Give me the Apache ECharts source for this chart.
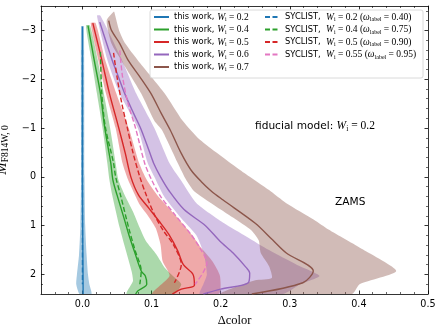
<!DOCTYPE html>
<html>
<head>
<meta charset="utf-8">
<script src="https://cdn.jsdelivr.net/npm/echarts@6/dist/echarts.min.js"></script>
<style>
html, body { margin: 0; padding: 0; background: #fff; }
#chart { width: 443px; height: 331px; }
</style>
</head>
<body>
<div id="chart"></div>
<script>
// tick labels
const xTicks = [0, 0.1, 0.2, 0.3, 0.4, 0.5];
const yTicks = [-3, -2, -1, 0, 1, 2];

// legend values
const workW = ['0.2', '0.4', '0.5', '0.6', '0.7'];
const syclistW = ['0.2', '0.4', '0.5', '0.55'];
const syclistOmega = ['0.40', '0.75', '0.90', '0.95'];

// this work: median lines, [dcolor, M]
const blueLine = [[0, -3.08], [0, 0], [0.001, 2.4]];
const greenLine = [[0.008, -3.1], [0.017, -2.39], [0.026, -1.71], [0.032, -1.03], [0.041, -0.28], [0.044, 0.06], [0.050, 0.37], [0.060, 0.84], [0.067, 1.18], [0.075, 1.52], [0.085, 1.93], [0.091, 2.03], [0.093, 2.2], [0.080, 2.34], [0.077, 2.4]];
const redLine = [[0.015, -3.15], [0.028, -2.39], [0.039, -1.71], [0.052, -1.03], [0.062, -0.48], [0.070, 0.0], [0.081, 0.37], [0.096, 0.64], [0.111, 0.91], [0.125, 1.18], [0.138, 1.52], [0.146, 1.80], [0.160, 2.0], [0.162, 2.22], [0.143, 2.3], [0.130, 2.4]];
const purpleLine = [[0.025, -3.17], [0.035, -2.73], [0.043, -2.39], [0.052, -2.05], [0.061, -1.71], [0.074, -1.3], [0.084, -1.0], [0.096, -0.55], [0.103, -0.28], [0.113, 0.0], [0.126, 0.3], [0.147, 0.67], [0.178, 1.0], [0.199, 1.32], [0.218, 1.56], [0.237, 1.86], [0.242, 1.97], [0.240, 2.17], [0.200, 2.3], [0.175, 2.4]];
const brownLine = [[0.038, -3.2], [0.042, -3.0], [0.054, -2.73], [0.066, -2.39], [0.083, -2.05], [0.099, -1.71], [0.114, -1.3], [0.127, -0.96], [0.143, -0.48], [0.157, -0.14], [0.172, 0.1], [0.187, 0.3], [0.203, 0.47], [0.250, 0.95], [0.275, 1.29], [0.295, 1.56], [0.334, 1.93], [0.319, 2.17], [0.245, 2.4]];

// this work: spread bands, left and right edges
const blueBandL = [[-0.002, -3.08], [-0.002, 0], [-0.003, 1.0], [-0.005, 1.6], [-0.008, 2.0], [-0.009, 2.2], [-0.004, 2.4]];
const blueBandR = [[0.002, -3.08], [0.003, 0], [0.004, 1.0], [0.006, 1.6], [0.008, 2.0], [0.010, 2.2], [0.013, 2.4]];
const greenBandL = [[0.005, -3.1], [0.013, -2.4], [0.021, -1.7], [0.029, -1.0], [0.036, -0.28], [0.039, 0.06], [0.043, 0.37], [0.054, 1.05], [0.063, 1.52], [0.071, 1.93], [0.073, 2.14], [0.064, 2.4]];
const greenBandR = [[0.011, -3.1], [0.022, -2.4], [0.031, -1.7], [0.040, -1.0], [0.048, -0.28], [0.052, 0.06], [0.061, 0.37], [0.073, 0.71], [0.083, 1.05], [0.092, 1.32], [0.107, 1.59], [0.119, 1.86], [0.131, 2.03], [0.143, 2.2], [0.133, 2.4]];
const redBandL = [[0.012, -3.15], [0.023, -2.39], [0.034, -1.71], [0.048, -1.0], [0.058, -0.28], [0.066, 0.06], [0.076, 0.37], [0.083, 0.57], [0.094, 0.78], [0.106, 1.05], [0.113, 1.39], [0.116, 1.73], [0.126, 2.03], [0.101, 2.4]];
const redBandR = [[0.019, -3.15], [0.033, -2.39], [0.049, -1.71], [0.067, -1.0], [0.082, -0.28], [0.093, 0.06], [0.108, 0.37], [0.134, 0.78], [0.158, 1.18], [0.172, 1.46], [0.188, 1.73], [0.199, 2.03], [0.197, 2.4]];
const purpleBandL = [[0.021, -3.3], [0.036, -2.4], [0.054, -1.7], [0.080, -1.0], [0.094, -0.3], [0.104, 0.0], [0.118, 0.4], [0.140, 0.8], [0.165, 1.2], [0.176, 1.6], [0.180, 2.0], [0.175, 2.2], [0.170, 2.4]];
const purpleBandR = [[0.026, -3.3], [0.057, -2.4], [0.078, -1.7], [0.104, -1.0], [0.126, -0.28], [0.142, 0.06], [0.165, 0.54], [0.205, 0.95], [0.237, 1.22], [0.270, 1.5], [0.310, 1.8], [0.343, 2.03], [0.315, 2.2], [0.290, 2.4]];
const brownBandL = [[0.045, -3.38], [0.035, -3.2], [0.042, -2.73], [0.056, -2.39], [0.085, -1.71], [0.104, -1.15], [0.115, -0.96], [0.138, -0.28], [0.150, 0.06], [0.162, 0.3], [0.200, 0.67], [0.243, 1.08], [0.255, 1.3], [0.258, 1.56], [0.270, 1.83], [0.274, 2.07], [0.250, 2.12], [0.200, 2.4]];
const brownBandR = [[0.046, -3.38], [0.053, -3.0], [0.062, -2.73], [0.080, -2.39], [0.119, -1.71], [0.145, -1.15], [0.170, -0.76], [0.228, -0.14], [0.270, 0.27], [0.295, 0.54], [0.335, 0.88], [0.356, 1.08], [0.406, 1.49], [0.454, 1.93], [0.401, 2.2], [0.390, 2.4]];

// SYCLIST dashed lines
const blueDash = [[0, -2.6], [0, 2.2]];
const greenDash = [[0.026, -2.56], [0.028, -1.71], [0.033, -1.03], [0.045, -0.28], [0.048, 0.0], [0.055, 0.37], [0.067, 1.05], [0.076, 1.5], [0.085, 1.93], [0.083, 2.2]];
const redDash = [[0.045, -2.54], [0.050, -2.05], [0.057, -1.5], [0.065, -1.0], [0.073, -0.5], [0.083, 0.0], [0.093, 0.4], [0.105, 0.8], [0.117, 1.1], [0.132, 1.4], [0.143, 1.8], [0.133, 2.17]];
const pinkDash = [[0.054, -2.59], [0.058, -2.05], [0.066, -1.5], [0.077, -0.99], [0.090, -0.28], [0.100, 0.06], [0.113, 0.4], [0.134, 0.78], [0.157, 1.18], [0.170, 1.46], [0.180, 1.76], [0.163, 2.2]];

const workLines = [blueLine, greenLine, redLine, purpleLine, brownLine];
const workBands = [[blueBandL, blueBandR], [greenBandL, greenBandR], [redBandL, redBandR], [purpleBandL, purpleBandR], [brownBandL, brownBandR]];
const syclistLines = [blueDash, greenDash, redDash, pinkDash];

const workColors = ['#1f77b4', '#2ca02c', '#d62728', '#9467bd', '#8c564b'];
const bandColors = ['rgba(31,119,180,0.4)', 'rgba(44,160,44,0.4)', 'rgba(214,39,40,0.4)', 'rgba(148,103,189,0.4)', 'rgba(140,86,75,0.4)'];
const syclistColors = ['#1f77b4', '#2ca02c', '#d62728', '#e377c2'];

const serif = 'Liberation Serif';
const sans = 'DejaVu Sans';

const labelMap = {};
const workNames = workW.map(w => {
  const n = 'this work, W=' + w;
  labelMap[n] = '{a|this work, }{w|W}{s|i}{m| = ' + w + '}';
  return n;
});
const syclistNames = syclistW.map((w, i) => {
  const n = 'SYCLIST, W=' + w;
  labelMap[n] = '{a|SYCLIST,  }{w|W}{s|i}{m| = ' + w + ' (}{w|\u03c9}{s|label}{m| = ' + syclistOmega[i] + ')}';
  return n;
});

const legendRich = {
  a: { fontFamily: sans, fontSize: 8.3, lineHeight: 11, color: '#000' },
  w: { fontFamily: serif, fontStyle: 'italic', fontSize: 9.5, lineHeight: 11, color: '#000' },
  s: { fontFamily: serif, fontSize: 6, lineHeight: 11, verticalAlign: 'bottom', color: '#000' },
  m: { fontFamily: serif, fontSize: 9.5, lineHeight: 11, color: '#000' }
};

function bandSeries(L, R, color) {
  const poly = L.concat(R.slice().reverse());
  return {
    type: 'custom',
    silent: true,
    clip: true,
    z: 1,
    data: poly,
    encode: { x: 0, y: 1 },
    renderItem: function (params, api) {
      if (params.dataIndex !== 0) return null;
      const pts = poly.map(p => api.coord(p));
      return { type: 'polygon', shape: { points: pts, smooth: 0.2 }, style: { fill: color } };
    }
  };
}

const series = [];
workBands.forEach((b, i) => series.push(bandSeries(b[0], b[1], bandColors[i])));
syclistLines.forEach((d, i) => series.push({
  type: 'line', name: syclistNames[i], data: d, symbol: 'none', smooth: 0.3, silent: true,
  z: i === 0 ? 2 : 4,
  lineStyle: { color: syclistColors[i], width: 1.4, type: [5, 2.5] },
  itemStyle: { color: syclistColors[i] }
}));
workLines.forEach((d, i) => series.push({
  type: 'line', name: workNames[i], data: d, symbol: 'none', smooth: 0.3, silent: true, z: 3,
  lineStyle: { color: workColors[i], width: 1.4 },
  itemStyle: { color: workColors[i] }
}));

const fmtY = v => (v < 0 ? '\u2212' + Math.abs(v) : String(v));

const baseX = {
  type: 'value', min: -0.06, max: 0.5,
  splitLine: { show: false },
  axisLine: { show: true, onZero: false, lineStyle: { color: '#000', width: 0.8 } },
  axisTick: { show: true, inside: true, length: 3.5, customValues: xTicks, lineStyle: { color: '#000', width: 0.8 } },
  minorTick: { show: true, splitNumber: 5, length: 2, lineStyle: { color: '#000', width: 0.6 } }
};
const baseY = {
  type: 'value', min: -3.5, max: 2.4, inverse: true,
  splitLine: { show: false },
  axisLine: { show: true, onZero: false, lineStyle: { color: '#000', width: 0.8 } },
  axisTick: { show: true, inside: true, length: 3.5, customValues: yTicks, lineStyle: { color: '#000', width: 0.8 } },
  minorTick: { show: true, splitNumber: 5, length: 2, lineStyle: { color: '#000', width: 0.6 } }
};

const legendBase = {
  orient: 'vertical', top: 12, padding: 0,
  itemWidth: 15, itemHeight: 8, itemGap: 2, selectedMode: false, z: 10,
  itemStyle: { opacity: 0 },
  formatter: n => labelMap[n], textStyle: { rich: legendRich }
};

const option = {
  animation: false,
  backgroundColor: '#fff',
  textStyle: { fontFamily: sans },
  grid: { left: 41, right: 15, top: 6, bottom: 37, containLabel: false, outerBoundsMode: 'none' },
  xAxis: [
    Object.assign({}, baseX, {
      position: 'bottom',
      axisLabel: { customValues: xTicks, formatter: v => v.toFixed(1), color: '#000', fontSize: 9.6, fontFamily: sans, margin: 5 },
      name: 'Δcolor', nameLocation: 'middle', nameGap: 16,
      nameTextStyle: { fontFamily: serif, fontSize: 12.5, color: '#000' }
    }),
    Object.assign({}, baseX, { position: 'top', axisLabel: { show: false } })
  ],
  yAxis: [
    Object.assign({}, baseY, {
      position: 'left',
      axisLabel: { customValues: yTicks, formatter: fmtY, color: '#000', fontSize: 9.6, fontFamily: sans, margin: 5 },
      name: '{m|M}{s|F814W, 0}', nameLocation: 'middle', nameGap: 21, nameRotate: 90,
      nameTextStyle: {
        rich: {
          m: { fontFamily: serif, fontStyle: 'italic', fontSize: 15, lineHeight: 17, color: '#000' },
          s: { fontFamily: serif, fontSize: 9.5, lineHeight: 17, verticalAlign: 'bottom', color: '#000' }
        }
      }
    }),
    Object.assign({}, baseY, { position: 'right', axisLabel: { show: false } })
  ],
  legend: [
    Object.assign({}, legendBase, { data: workNames, left: 153 }),
    Object.assign({}, legendBase, { data: syclistNames, left: 264 })
  ],
  graphic: [
    {
      type: 'rect', z: 8, silent: true,
      shape: { x: 150, y: 10, width: 273, height: 68, r: 2 },
      style: { fill: 'rgba(255,255,255,0.8)', stroke: '#d0d0d0', lineWidth: 0.8 }
    },
    {
      type: 'text', z: 9, left: 255, top: 120, silent: true,
      style: {
        text: '{a|fiducial model: }{w|W}{s|i}{m| = 0.2}',
        rich: {
          a: { fontFamily: sans, fontSize: 10.6, lineHeight: 14, fill: '#000' },
          w: { fontFamily: serif, fontStyle: 'italic', fontSize: 11.5, lineHeight: 14, fill: '#000' },
          s: { fontFamily: serif, fontSize: 7.5, lineHeight: 14, verticalAlign: 'bottom', fill: '#000' },
          m: { fontFamily: serif, fontSize: 11.5, lineHeight: 14, fill: '#000' }
        }
      }
    },
    {
      type: 'text', z: 9, left: 335, top: 197, silent: true,
      style: { text: 'ZAMS', font: '10.6px "DejaVu Sans"', fill: '#000' }
    }
  ],
  series: series
};

const chart = echarts.init(document.getElementById('chart'), null, { renderer: 'canvas' });
chart.setOption(option);
</script>
</body>
</html>
